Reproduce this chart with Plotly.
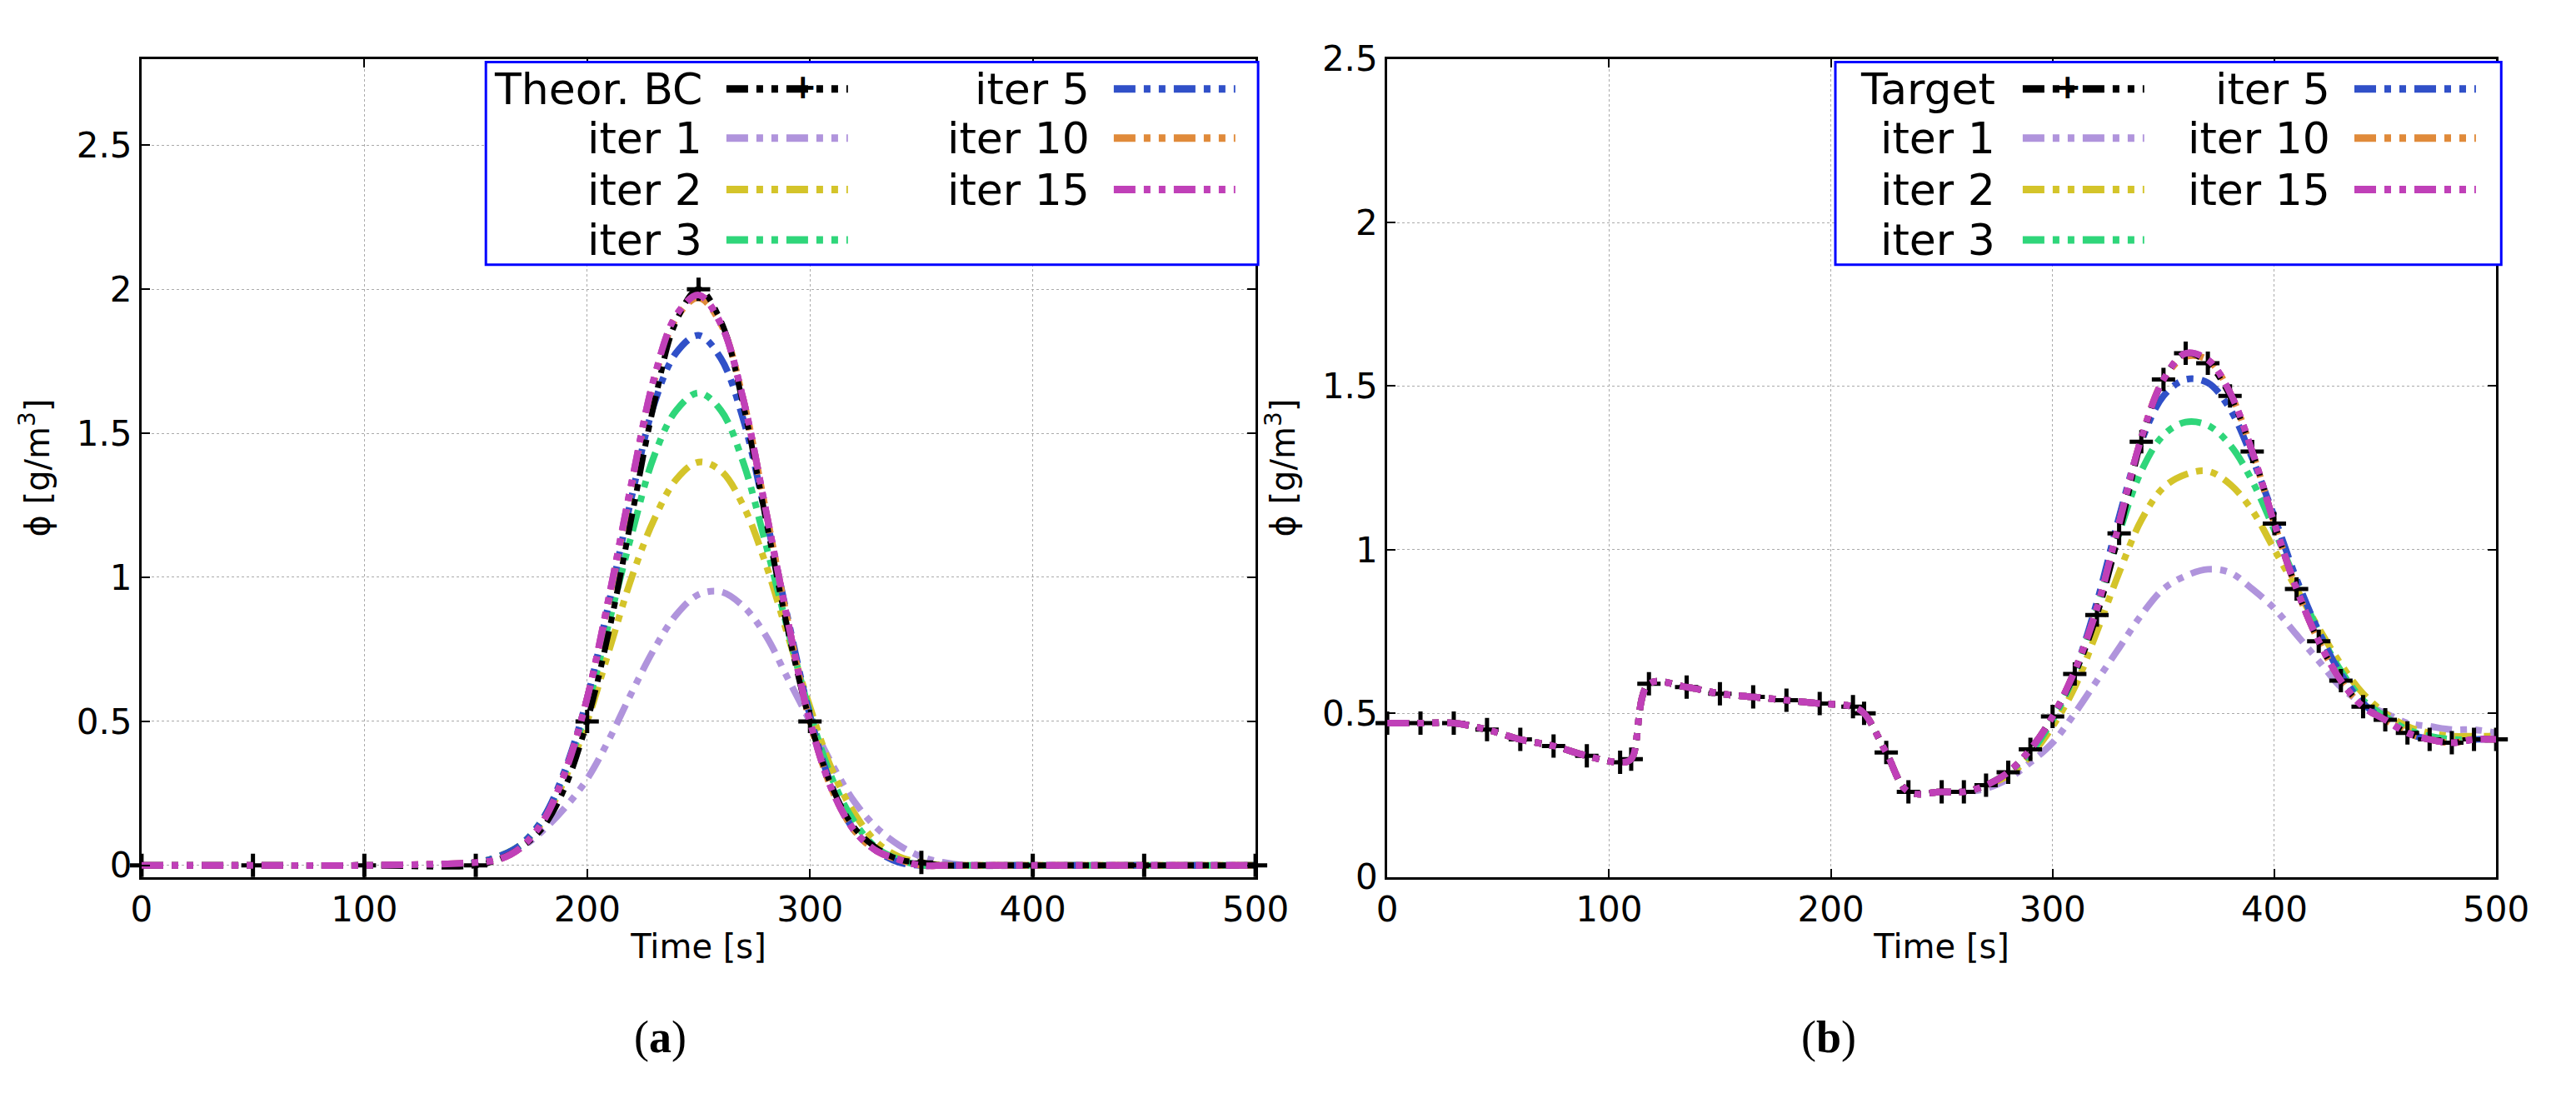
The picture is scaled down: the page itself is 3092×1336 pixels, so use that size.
import plotly.graph_objects as go

# ---- panel (a) ----
xa = [0, 50, 100, 150, 160, 170, 180, 190, 200, 210, 220, 230, 240, 250, 260, 270, 280,
      290, 300, 310, 320, 330, 340, 350, 360, 370, 400, 450, 500]
a_target = [0, 0, 0, 0, 0.02, 0.06, 0.13, 0.27, 0.5, 0.82, 1.21, 1.6, 1.89, 2.0, 1.89, 1.6, 1.21,
            0.82, 0.5, 0.27, 0.13, 0.06, 0.02, 0.01, 0, 0, 0, 0, 0]
a_iter1 = [0, 0, 0, 0.01, 0.03, 0.06, 0.12, 0.2, 0.3, 0.44, 0.6, 0.75, 0.87, 0.94, 0.95, 0.9, 0.8,
           0.65, 0.5, 0.35, 0.22, 0.13, 0.07, 0.03, 0.01, 0, 0, 0, 0]
a_iter2 = [0, 0, 0, 0.01, 0.03, 0.07, 0.15, 0.3, 0.5, 0.75, 1.0, 1.2, 1.34, 1.4, 1.37, 1.25, 1.05,
           0.8, 0.55, 0.33, 0.18, 0.08, 0.03, 0.01, 0, 0, 0, 0, 0]
a_iter3 = [0, 0, 0, 0.01, 0.03, 0.07, 0.16, 0.32, 0.55, 0.85, 1.15, 1.42, 1.58, 1.64, 1.58, 1.4, 1.12,
           0.82, 0.53, 0.3, 0.15, 0.06, 0.02, 0, 0, 0, 0, 0, 0]
a_iter5 = [0, 0, 0, 0.01, 0.03, 0.07, 0.16, 0.33, 0.58, 0.92, 1.28, 1.6, 1.78, 1.84, 1.76, 1.55, 1.22,
           0.86, 0.52, 0.27, 0.12, 0.05, 0.01, 0, 0, 0, 0, 0, 0]
a_iter10 = [0, 0, 0, 0.01, 0.02, 0.06, 0.15, 0.32, 0.58, 0.93, 1.32, 1.68, 1.9, 1.97, 1.88, 1.62, 1.24,
            0.85, 0.5, 0.26, 0.12, 0.05, 0.02, 0, 0, 0, 0, 0, 0]
a_iter15 = [0, 0, 0, 0.01, 0.02, 0.06, 0.15, 0.32, 0.58, 0.94, 1.33, 1.69, 1.91, 1.98, 1.88, 1.62, 1.24,
            0.85, 0.5, 0.26, 0.12, 0.05, 0.02, 0, 0, 0, 0, 0, 0]

# ---- panel (b) ----
xb = [0, 15, 30, 45, 60, 75, 90, 105, 110, 118, 135, 150, 165, 180, 195, 210, 215, 225, 235, 250,
      260, 270, 280, 290, 300, 310, 320, 330, 340, 350, 360, 370, 380, 390, 400, 410, 420, 430,
      440, 450, 460, 470, 480, 490, 500]
b_head = [0.47, 0.47, 0.47, 0.45, 0.42, 0.40, 0.37, 0.35, 0.36, 0.59, 0.58, 0.56, 0.55, 0.54, 0.53,
          0.52, 0.50, 0.38, 0.26, 0.26]
b_target = b_head + [0.26, 0.28, 0.32, 0.39, 0.49, 0.62, 0.8, 1.05, 1.33, 1.52, 1.6, 1.57, 1.47, 1.3,
                     1.08, 0.88, 0.72, 0.6, 0.52, 0.48, 0.44, 0.42, 0.41, 0.42, 0.42]
b_iter1 = b_head + [0.26, 0.27, 0.3, 0.35, 0.41, 0.5, 0.6, 0.7, 0.8, 0.88, 0.92, 0.94, 0.93, 0.88,
                    0.82, 0.74, 0.66, 0.58, 0.53, 0.5, 0.47, 0.46, 0.45, 0.45, 0.44]
b_iter2 = b_head + [0.26, 0.28, 0.31, 0.37, 0.46, 0.58, 0.75, 0.93, 1.09, 1.19, 1.23, 1.24, 1.2, 1.12,
                    1.0, 0.88, 0.76, 0.65, 0.56, 0.5, 0.46, 0.44, 0.43, 0.43, 0.43]
b_iter3 = b_head + [0.26, 0.28, 0.32, 0.38, 0.48, 0.62, 0.82, 1.05, 1.24, 1.35, 1.39, 1.38, 1.32, 1.21,
                    1.06, 0.9, 0.75, 0.63, 0.54, 0.49, 0.45, 0.43, 0.42, 0.42, 0.42]
b_iter5 = b_head + [0.26, 0.28, 0.32, 0.39, 0.49, 0.63, 0.84, 1.1, 1.33, 1.47, 1.52, 1.51, 1.43, 1.28,
                    1.1, 0.91, 0.75, 0.62, 0.53, 0.48, 0.44, 0.42, 0.41, 0.42, 0.42]
b_iter10 = b_head + [0.26, 0.28, 0.32, 0.39, 0.49, 0.63, 0.82, 1.08, 1.34, 1.52, 1.59, 1.58, 1.48, 1.3,
                     1.08, 0.88, 0.72, 0.6, 0.52, 0.48, 0.44, 0.42, 0.41, 0.42, 0.42]
b_iter15 = b_head + [0.26, 0.28, 0.32, 0.39, 0.49, 0.63, 0.82, 1.08, 1.34, 1.52, 1.6, 1.58, 1.48, 1.3,
                     1.08, 0.88, 0.72, 0.6, 0.52, 0.48, 0.44, 0.42, 0.41, 0.42, 0.42]

iter_names = ["iter 1", "iter 2", "iter 3", "iter 5", "iter 10", "iter 15"]
colors = ["#b094dc", "#d4c42a", "#2fd67a", "#3050c8", "#e08a3a", "#c040b8"]
DASH = "26px,10px,8px,10px,8px,10px"
FONT = "DejaVu Sans"

fig = go.Figure()
marker = dict(symbol="cross-thin", size=20, line=dict(color="black", width=5))

# (xaxis, yaxis, target name, x, target, iterations, marker step, legend geometry)
panels = [
    ("x", "y", "Theor. BC", xa, a_target, [a_iter1, a_iter2, a_iter3, a_iter5, a_iter10, a_iter15], 50,
     dict(box=(0.185, 0.490), c1=(0.271, 0.280, 0.328), c2=(0.424, 0.433, 0.481))),
    ("x2", "y2", "Target", xb, b_target, [b_iter1, b_iter2, b_iter3, b_iter5, b_iter10, b_iter15], None,
     dict(box=(0.718, 0.981), c1=(0.782, 0.792, 0.840), c2=(0.914, 0.923, 0.971))),
]

shapes, annots = [], []
rows_y = [0.942, 0.896, 0.848, 0.801]
for xax, yax, tname, xs, target, iters, mstep, lg in panels:
    for name, col, ys in zip(iter_names, colors, iters):
        fig.add_trace(go.Scatter(x=xs, y=ys, name=name, xaxis=xax, yaxis=yax, mode="lines", showlegend=False,
                                 line=dict(color=col, width=8, dash=DASH, shape="spline")))
    fig.add_trace(go.Scatter(x=xs, y=target, name=tname, xaxis=xax, yaxis=yax, mode="lines", showlegend=False,
                             line=dict(color="black", width=7, dash=DASH, shape="spline")))
    if mstep:
        mx = [x for x in xs if x % mstep == 0]
        my = [y for x, y in zip(xs, target) if x % mstep == 0]
    else:
        mx, my = xs, target
    fig.add_trace(go.Scatter(x=mx, y=my, xaxis=xax, yaxis=yax, mode="markers", showlegend=False,
                             marker=marker, cliponaxis=False))
    # re-draw last iteration on top, as in the reference
    fig.add_trace(go.Scatter(x=xs, y=iters[-1], xaxis=xax, yaxis=yax, mode="lines", showlegend=False,
                             line=dict(color=colors[-1], width=8, dash=DASH, shape="spline")))

    # hand-made legend (two columns, label right-aligned before the sample line)
    shapes.append(dict(type="rect", xref="paper", yref="paper", x0=lg["box"][0], x1=lg["box"][1],
                       y0=0.778, y1=0.967, line=dict(color="#0000ff", width=3), fillcolor="white", layer="above"))
    entries = [(tname, "black", lg["c1"], 0), ("iter 1", colors[0], lg["c1"], 1), ("iter 2", colors[1], lg["c1"], 2),
               ("iter 3", colors[2], lg["c1"], 3), ("iter 5", colors[3], lg["c2"], 0),
               ("iter 10", colors[4], lg["c2"], 1), ("iter 15", colors[5], lg["c2"], 2)]
    for label, col, (tx, l0, l1), r in entries:
        yy = rows_y[r]
        annots.append(dict(text=label, x=tx, y=yy, xref="paper", yref="paper", xanchor="right", yanchor="middle",
                           showarrow=False, font=dict(family=FONT, size=52, color="black")))
        shapes.append(dict(type="line", xref="paper", yref="paper", x0=l0, x1=l1, y0=yy, y1=yy, layer="above",
                           line=dict(color=col, width=9, dash=DASH)))
        if col == "black":
            annots.append(dict(text="<b>+</b>", x=(l0 + l1) / 2, y=yy, xref="paper", yref="paper", showarrow=False,
                               yanchor="middle", yshift=3, font=dict(family=FONT, size=40, color="black")))

ax = dict(showline=True, linecolor="black", linewidth=3, mirror="ticks", ticks="inside", ticklen=10,
          tickwidth=2, tickcolor="black", showgrid=True, gridcolor="#aaaaaa", griddash="dot", gridwidth=1,
          zeroline=False, tickfont=dict(family=FONT, size=42, color="black"))
xt = dict(title=dict(text="Time [s]", font=dict(family=FONT, size=40, color="black"), standoff=8),
          range=[0, 500], dtick=100)
yt = dict(title=dict(text="ϕ [g/m<sup>3</sup>]", font=dict(family=FONT, size=40, color="black"), standoff=20),
          tickvals=[0, 0.5, 1, 1.5, 2, 2.5], ticktext=["0", "0.5", "1", "1.5", "2", "2.5"])

annots += [
    dict(text="(<b>a</b>)", x=0.243, y=0.033, xref="paper", yref="paper", showarrow=False,
         font=dict(family="Liberation Serif", size=54, color="black")),
    dict(text="(<b>b</b>)", x=0.727, y=0.033, xref="paper", yref="paper", showarrow=False,
         font=dict(family="Liberation Serif", size=54, color="black")),
]

fig.update_layout(
    width=3092, height=1336, paper_bgcolor="white", plot_bgcolor="white",
    margin=dict(l=0, r=0, t=0, b=0), showlegend=False,
    xaxis=dict(**ax, **xt, domain=[0.049, 0.489], anchor="y"),
    yaxis=dict(**ax, **yt, domain=[0.207, 0.97], range=[-0.04, 2.8], anchor="x"),
    xaxis2=dict(**ax, **xt, domain=[0.541, 0.979], anchor="y2"),
    yaxis2=dict(**ax, **yt, domain=[0.207, 0.97], range=[0, 2.5], anchor="x2"),
    shapes=shapes, annotations=annots,
)

fig.write_html("out.html")
